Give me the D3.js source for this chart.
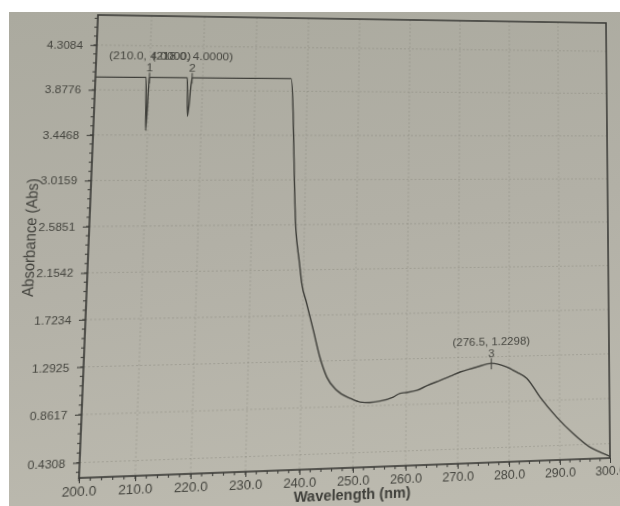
<!DOCTYPE html>
<html>
<head>
<meta charset="utf-8">
<script src="https://cdn.jsdelivr.net/npm/d3@7"></script>
<style>
    html, body { margin: 0; padding: 0; background: #fff; }
    #page { position: relative; width: 620px; height: 506px; overflow: hidden; }
    #paper {
        position: absolute; left: 9px; top: 12px; width: 611px; height: 494px;
        background: linear-gradient(172deg, #abaa9f 0%, #b2b0a6 45%, #bdbbb0 100%);
    }
    #chart { position: absolute; left: 0; top: 0; transform-origin: 0 0; overflow: visible; }
    text { font-family: "Liberation Sans", Arial, sans-serif; }
</style>
</head>
<body>
<div id="page">
    <div id="paper"></div>
    <svg id="chart" width="620" height="506"></svg>
</div>
<script>
'use strict';

// spectrum (nm, Abs)
const wavelength = [200.0, 209.4, 209.65, 210.0, 217.1, 217.35, 218.0, 236.85, 238.4, 239.2,
    239.7, 240.7, 242.1, 243.4, 244.8, 246.7, 249.3, 251.2, 253.0, 255.0,
    257.5, 258.8, 260.0, 262.0, 264.0, 266.5, 268.5, 270.4, 272.0, 273.6,
    276.5, 279.5, 281.5, 283.5, 286.1, 289.4, 292.7, 296.0, 298.0, 300.0];
const absorbance = [4.0, 4.0, 3.49, 4.0, 4.0, 3.63, 4.0, 4.0, 2.53, 2.22,
    2.03, 1.84, 1.58, 1.33, 1.14, 1.015, 0.937, 0.899, 0.893, 0.903,
    0.937, 0.97, 0.976, 0.993, 1.035, 1.081, 1.118, 1.155, 1.178, 1.198,
    1.2298, 1.191, 1.14, 1.078, 0.896, 0.70, 0.537, 0.404, 0.355, 0.31];

// peak picks
const peakNo = [1, 2, 3];
const peakX = [210.0, 218.0, 276.5];
const peakY = [4.0, 4.0, 1.2298];

const xTicks = [200, 210, 220, 230, 240, 250, 260, 270, 280, 290, 300];
const yTicks = [0.4308, 0.8617, 1.2925, 1.7234, 2.1542, 2.5851, 3.0159, 3.4468, 3.8776, 4.3084];
const xDomain = [200, 300];
const yDomain = [0.294, 4.6];

document.addEventListener('DOMContentLoaded', function() {
    const svg = d3.select('#chart');

    // plot box in svg units
    const L = 98, T = 15, W = 510, H = 455;
    const ink = '#3b3b37';

    const x = d3.scaleLinear().domain(xDomain).range([L, L + W]);
    const y = d3.scaleLinear().domain(yDomain).range([T + H, T]);

    // grid
    const grid = svg.append('g')
        .attr('stroke', 'rgba(80,80,70,0.2)')
        .attr('stroke-dasharray', '2,2')
        .attr('stroke-width', 1);
    grid.selectAll('.gx')
        .data(xTicks.slice(1, -1))
        .enter().append('line')
            .attr('x1', x).attr('x2', x)
            .attr('y1', T).attr('y2', T + H);
    grid.selectAll('.gy')
        .data(yTicks)
        .enter().append('line')
            .attr('x1', L).attr('x2', L + W)
            .attr('y1', y).attr('y2', y);

    // minor ticks, five per major step
    const minors = svg.append('g').attr('stroke', ink).attr('stroke-width', 1);
    const yStep = (yTicks[1] - yTicks[0]) / 5;
    const yStart = yTicks[0] - Math.floor((yTicks[0] - yDomain[0]) / yStep) * yStep;
    const yMinor = d3.range(yStart, yDomain[1], yStep);
    minors.selectAll('.my')
        .data(yMinor)
        .enter().append('line')
            .attr('x1', L - 3).attr('x2', L)
            .attr('y1', y).attr('y2', y);
    minors.selectAll('.mx')
        .data(d3.range(xDomain[0], xDomain[1], 2))
        .enter().append('line')
            .attr('x1', x).attr('x2', x)
            .attr('y1', T + H).attr('y2', T + H + 3);

    // axes
    const yAxis = svg.append('g')
        .attr('transform', 'translate(' + L + ',0)')
        .call(d3.axisLeft(y)
            .tickValues(yTicks)
            .tickFormat(d3.format('.4f'))
            .tickSize(6)
            .tickPadding(7));
    const xAxis = svg.append('g')
        .attr('transform', 'translate(0,' + (T + H) + ')')
        .call(d3.axisBottom(x)
            .tickValues(xTicks)
            .tickFormat(d3.format('.1f'))
            .tickSize(5)
            .tickPadding(3));
    [yAxis, xAxis].forEach(function(a) {
        a.select('.domain').remove();
        a.selectAll('line').attr('stroke', ink);
        a.selectAll('text').attr('fill', '#45453f').attr('font-family', null);
    });
    yAxis.selectAll('text').attr('font-size', 11);
    xAxis.selectAll('text').attr('font-size', 12.5);

    // frame
    svg.append('rect')
        .attr('x', L).attr('y', T)
        .attr('width', W).attr('height', H)
        .attr('fill', 'none')
        .attr('stroke', ink)
        .attr('stroke-width', 1.6);

    // spectrum
    const line = d3.line()
        .x(function(i) { return x(wavelength[i]); })
        .y(function(i) { return y(absorbance[i]); })
        .curve(d3.curveMonotoneX);
    svg.append('path')
        .attr('d', line(d3.range(wavelength.length)))
        .attr('fill', 'none')
        .attr('stroke', '#3f3f3a')
        .attr('stroke-width', 1.4);

    // peak markers
    const peaks = svg.append('g')
        .selectAll('g')
        .data(peakNo)
        .enter().append('g')
            .attr('transform', function(d, i) { return 'translate(' + x(peakX[i]) + ',' + y(peakY[i]) + ')'; });
    peaks.append('line')
        .attr('y1', -5).attr('y2', 6)
        .attr('stroke', '#3f3f3a')
        .attr('stroke-width', 1);
    peaks.append('text')
        .attr('y', -10.5).attr('dy', '0.35em')
        .attr('text-anchor', 'middle')
        .attr('font-size', 11.5)
        .attr('fill', '#45453f')
        .text(function(d) { return d; });
    peaks.append('text')
        .attr('y', -22).attr('dy', '0.35em')
        .attr('text-anchor', 'middle')
        .attr('font-size', 11.5)
        .attr('fill', '#45453f')
        .text(function(d, i) { return '(' + peakX[i].toFixed(1) + ', ' + peakY[i].toFixed(4) + ')'; });

    // titles
    svg.append('text')
        .attr('transform', 'translate(44,238) rotate(-90)')
        .attr('dy', '0.35em')
        .attr('text-anchor', 'middle')
        .attr('font-size', 14.5)
        .attr('fill', '#3f3f3a')
        .text('Absorbance (Abs)');
    svg.append('text')
        .attr('x', L + W / 2)
        .attr('y', T + H + 26.5)
        .attr('dy', '0.35em')
        .attr('text-anchor', 'middle')
        .attr('font-size', 14)
        .attr('font-weight', 'bold')
        .attr('fill', '#3f3f3a')
        .text('Wavelength (nm)');

    // the printout was photographed at a slight angle: map the plot box onto the corners seen in the photo
    const quad = [[98, 15], [606, 23], [610, 458], [79, 478]];
    const q = squareToQuad(quad);
    const m11 = q.a / W, m12 = q.b / H, m14 = q.c - q.a * L / W - q.b * T / H;
    const m21 = q.d / W, m22 = q.e / H, m24 = q.f - q.d * L / W - q.e * T / H;
    const m41 = q.g / W, m42 = q.h / H, m44 = 1 - q.g * L / W - q.h * T / H;
    svg.style('transform', 'matrix3d(' + [m11, m21, 0, m41, m12, m22, 0, m42, 0, 0, 1, 0, m14, m24, 0, m44].join(',') + ')');

    function squareToQuad(p) {
        const sx = p[0][0] - p[1][0] + p[2][0] - p[3][0];
        const sy = p[0][1] - p[1][1] + p[2][1] - p[3][1];
        const dx1 = p[1][0] - p[2][0], dx2 = p[3][0] - p[2][0];
        const dy1 = p[1][1] - p[2][1], dy2 = p[3][1] - p[2][1];
        const den = dx1 * dy2 - dx2 * dy1;
        const g = (sx * dy2 - sy * dx2) / den;
        const h = (dx1 * sy - dy1 * sx) / den;
        return {
            a: p[1][0] - p[0][0] + g * p[1][0], b: p[3][0] - p[0][0] + h * p[3][0], c: p[0][0],
            d: p[1][1] - p[0][1] + g * p[1][1], e: p[3][1] - p[0][1] + h * p[3][1], f: p[0][1],
            g: g, h: h
        };
    }
}, false);
</script>
</body>
</html>
